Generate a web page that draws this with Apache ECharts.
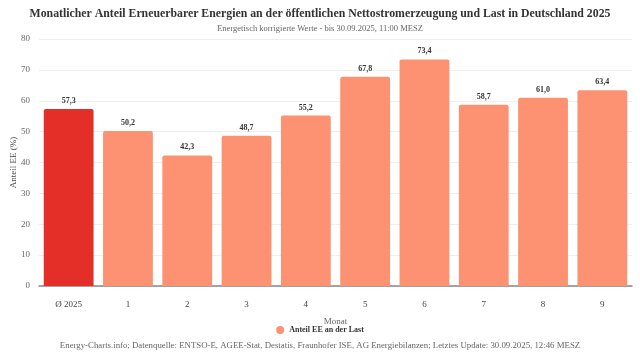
<!DOCTYPE html>
<html><head><meta charset="utf-8">
<script src="https://cdn.jsdelivr.net/npm/echarts@6/dist/echarts.min.js"></script>
<style>html,body{margin:0;padding:0;background:#fff}#c{width:640px;height:360px}</style>
</head><body><div id="c"></div>
<script>
const categories = ['Ø 2025','1','2','3','4','5','6','7','8','9'];
const values = [57.3, 50.2, 42.3, 48.7, 55.2, 67.8, 73.4, 58.7, 61.0, 63.4];
const yTicks = [0,10,20,30,40,50,60,70,80];
const seriesName = 'Anteil EE an der Last';
const F = '"Liberation Serif", "DejaVu Serif", serif';
const chart = echarts.init(document.getElementById('c'));
chart.setOption({
  animation:false,
  textStyle:{fontFamily:F},
  title:{
    text:'Monatlicher Anteil Erneuerbarer Energien an der öffentlichen Nettostromerzeugung und Last in Deutschland 2025',
    subtext:'Energetisch korrigierte Werte - bis 30.09.2025, 11:00 MESZ',
    left:'center', top:3, itemGap:4,
    textStyle:{fontFamily:F,fontSize:11.8,fontWeight:'bold',color:'#333'},
    subtextStyle:{fontFamily:F,fontSize:8.5,color:'#666'}
  },
  legend:{
    bottom:21, left:'center', icon:'circle', itemWidth:8, itemHeight:8,
    textStyle:{fontFamily:F,fontSize:8,fontWeight:'bold',color:'#333'},
    data:[{name:seriesName, itemStyle:{color:'#fc9272'}}]
  },
  graphic:[{type:'text', left:'center', bottom:10,
    style:{text:'Energy-Charts.info; Datenquelle: ENTSO-E, AGEE-Stat, Destatis, Fraunhofer ISE, AG Energiebilanzen; Letztes Update: 30.09.2025, 12:46 MESZ',
      font:'8.8px '+F, fill:'#666'}}],
  grid:{left:39, right:8, top:39, bottom:74, containLabel:false, outerBoundsMode:'none'},
  xAxis:{type:'category', data:categories, name:'Monat', nameLocation:'middle', nameGap:31,
    nameTextStyle:{fontFamily:F,fontSize:9,color:'#666'},
    axisLine:{lineStyle:{color:'#888',width:1.5}}, axisTick:{show:false},
    axisLabel:{fontFamily:F,fontSize:9,color:'#444',margin:14}},
  yAxis:{type:'value', min:0, max:80, interval:10, name:'Anteil EE (%)', nameLocation:'middle', nameGap:21,
    nameMoveOverlap:false,
    nameTextStyle:{fontFamily:F,fontSize:9,color:'#444'},
    axisLabel:{fontFamily:F,fontSize:9,color:'#666',margin:9, formatter:v=>yTicks.includes(v)?String(v):''},
    splitLine:{lineStyle:{color:'#eee'}}},
  series:[{
    name:seriesName, type:'bar', barCategoryGap:'16%',
    data: values.map((v,i)=>({value:v, itemStyle:{color: i===0?'#e32f27':'#fc9272'}})),
    itemStyle:{borderRadius:[2,2,0,0]},
    label:{show:true, position:'top', distance:4, fontFamily:F, fontSize:8, fontWeight:'bold', color:'#333',
      formatter:p=>p.value.toFixed(1).replace('.',',')}
  }]
});
</script></body></html>
